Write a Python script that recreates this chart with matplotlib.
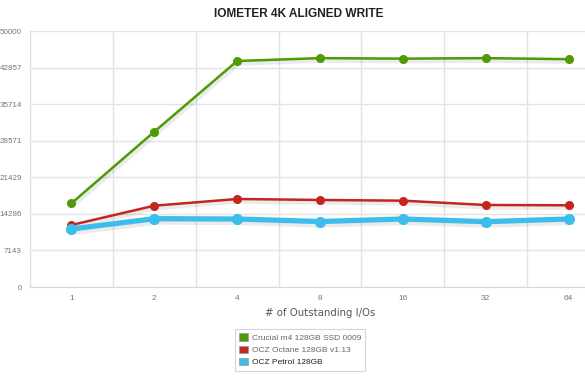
import matplotlib
matplotlib.use("Agg")
import numpy as np
import matplotlib.pyplot as plt
import matplotlib.patheffects as pe
from matplotlib.patches import Patch

# data
queue_depths = ["1", "2", "4", "8", "16", "32", "64"]
crucial_m4 = [16350, 30330, 44140, 44700, 44600, 44700, 44500]
ocz_octane = [12110, 15880, 17190, 17000, 16860, 16020, 15960]
ocz_petrol = [11330, 13340, 13280, 12790, 13280, 12760, 13280]
y_ticks = [0, 7143, 14286, 21429, 28571, 35714, 42857, 50000]

fig = plt.figure(figsize=(5.85, 3.9), dpi=100)
# plot area runs past the right edge, like the original screenshot
ax = fig.add_axes([30 / 585, 1 - 287 / 390, 580 / 585, 256 / 390])

x = np.arange(len(queue_depths))


def draw_series(vals, color, lw, ms, z):
    # soft shadow under the line only, markers drawn on top without it
    ax.plot(x, vals, color=color, lw=lw, zorder=z,
            path_effects=[pe.SimpleLineShadow(offset=(1, -1.5), shadow_color="black", alpha=0.08,
                                              linewidth=lw + 2), pe.Normal()])
    ax.plot(x, vals, color=color, lw=0, marker="o", ms=ms, zorder=z + 0.5)


draw_series(crucial_m4, "#4f9a07", 1.8, 5.5, 3)
draw_series(ocz_octane, "#c4261d", 1.8, 5.5, 3)
draw_series(ocz_petrol, "#3cbdec", 3.8, 7, 4)

ax.set_xlim(-0.5, len(queue_depths) - 0.5)
ax.set_ylim(0, 50000)
ax.set_xticks(x)
ax.set_xticklabels(queue_depths)
ax.set_xticks(np.arange(-0.5, len(queue_depths), 1), minor=True)
ax.set_yticks(y_ticks)
ax.set_yticklabels([str(v) for v in y_ticks])

ax.grid(True, which="minor", axis="x", color="#e3e3e3", lw=1)
ax.grid(True, which="major", axis="y", color="#e3e3e3", lw=1)
ax.set_axisbelow(True)
for s in ax.spines.values():
    s.set_visible(False)
ax.spines["left"].set_visible(True)
ax.spines["left"].set_color("#e3e3e3")
ax.spines["bottom"].set_visible(True)
ax.spines["bottom"].set_color("#d8d8d8")

ax.tick_params(which="both", length=0)
ax.tick_params(axis="x", labelsize=6, colors="#777777", pad=6)
ax.tick_params(axis="y", labelsize=5.8, colors="#777777", pad=5.8)
for t in ax.get_xticklabels() + ax.get_yticklabels():
    t.set_family("Liberation Sans")

fig.text(299 / 585, 1 - 14 / 390, "IOMETER 4K ALIGNED WRITE", ha="center", va="center",
         fontsize=8.6, fontweight="bold", color="#222222", family="Liberation Sans")
fig.text(320 / 585, 1 - 313 / 390, "# of Outstanding I/Os", ha="center", va="center",
         fontsize=7.3, color="#555555")

handles = [Patch(facecolor="#4f9a07", edgecolor="#999999", lw=0.5),
           Patch(facecolor="#c4261d", edgecolor="#999999", lw=0.5),
           Patch(facecolor="#3cbdec", edgecolor="#999999", lw=0.5)]
labels = ["Crucial m4 128GB SSD 0009", "OCZ Octane 128GB v1.13", "OCZ Petrol 128GB"]
leg = fig.legend(handles, labels, loc="upper left", bbox_to_anchor=(235 / 585, 1 - 329 / 390),
                 frameon=True, fancybox=False, handlelength=1.0, handleheight=1.0,
                 handletextpad=0.5, borderpad=0.5, labelspacing=0.45, borderaxespad=0,
                 prop={"family": "Liberation Sans", "size": 6})
leg.get_frame().set_edgecolor("#cccccc")
leg.get_frame().set_linewidth(0.8)
for t, c in zip(leg.get_texts(), ["#666666", "#666666", "#222222"]):
    t.set_color(c)

fig.savefig("out.png", dpi=100)
